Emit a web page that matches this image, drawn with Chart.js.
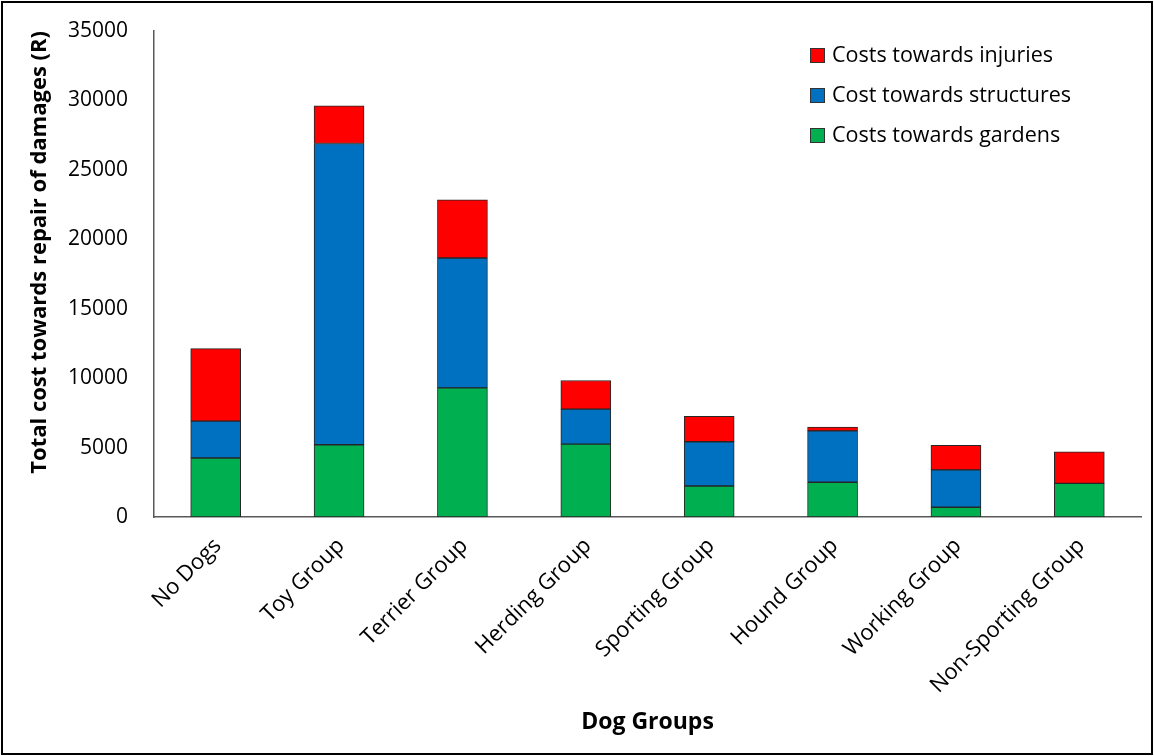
<!DOCTYPE html>
<html>
<head>
<meta charset="utf-8">
<script src="https://cdn.jsdelivr.net/npm/chart.js@4.4.1/dist/chart.umd.min.js"></script>
<style>
  html, body { margin: 0; padding: 0; background: #fff; }
  #wrap { width: 1154px; height: 756px; position: relative; }
</style>
</head>
<body>
<div id="wrap"><canvas id="chart" width="1154" height="756"></canvas></div>
<script>
// Dog group categories
const groups = ['No Dogs', 'Toy Group', 'Terrier Group', 'Herding Group',
  'Sporting Group', 'Hound Group', 'Working Group', 'Non-Sporting Group'];

// Cost segments (R)
const gardenCosts = [4250, 5200, 9300, 5250, 2230, 2500, 700, 2420];
const structureCosts = [2650, 21700, 9350, 2520, 3190, 3700, 2690, 0];
const injuryCosts = [5230, 2720, 4200, 2060, 1830, 270, 1780, 2280];

const yTicks = [0, 5000, 10000, 15000, 20000, 25000, 30000, 35000];

const FONT = "'Open Sans', 'DejaVu Sans', sans-serif";

// White background and the thin frame around the figure
const framePlugin = {
  id: 'frame',
  beforeDraw(chart) {
    const { ctx, width, height } = chart;
    ctx.save();
    ctx.fillStyle = '#fff';
    ctx.fillRect(0, 0, width, height);
    ctx.restore();
  },
  afterDraw(chart) {
    const { ctx, width, height } = chart;
    ctx.save();
    ctx.strokeStyle = '#000';
    ctx.lineWidth = 2;
    ctx.strokeRect(2, 2, width - 4, height - 4);
    ctx.restore();
  }
};

// Legend sits inside the plot area, top right, listed top-down as injuries/structures/gardens
const insideLegend = {
  id: 'insideLegend',
  afterDraw(chart) {
    const { ctx } = chart;
    const items = chart.data.datasets.slice().reverse();
    ctx.save();
    ctx.font = '21.5px ' + FONT;
    ctx.textBaseline = 'middle';
    ctx.textAlign = 'left';
    items.forEach((ds, i) => {
      const cy = 55 + i * 40;
      ctx.fillStyle = ds.backgroundColor;
      ctx.fillRect(810, cy - 7, 15, 15);
      ctx.strokeStyle = '#333';
      ctx.lineWidth = 1;
      ctx.strokeRect(810.5, cy - 6.5, 14, 14);
      ctx.fillStyle = '#000';
      ctx.fillText(ds.label, 832, cy + 1);
    });
    ctx.restore();
  }
};

const common = {
  borderColor: '#262626',
  borderWidth: 1,
  borderSkipped: false,
  barThickness: 50
};

// keep the plot box fixed, whatever the tick labels ask for
function noPadding(scale) {
  scale.paddingTop = 0;
  scale.paddingBottom = 0;
  scale.paddingLeft = 0;
  scale.paddingRight = 0;
}

new Chart(document.getElementById('chart'), {
  type: 'bar',
  data: {
    labels: groups,
    datasets: [
      { label: 'Costs towards gardens', data: gardenCosts, backgroundColor: '#00B050', ...common },
      { label: 'Cost towards structures', data: structureCosts, backgroundColor: '#0070C0', ...common },
      { label: 'Costs towards injuries', data: injuryCosts, backgroundColor: '#FF0000', ...common }
    ]
  },
  options: {
    responsive: false,
    animation: false,
    layout: { padding: { left: 0, top: 31, right: 13, bottom: 0 } },
    plugins: {
      legend: { display: false },
      tooltip: { enabled: false }
    },
    scales: {
      x: {
        stacked: true,
        grid: { display: false, drawTicks: false },
        border: { display: true, color: '#595959', width: 1.5 },
        ticks: {
          color: '#000',
          font: { family: FONT, size: 22 },
          maxRotation: 45,
          minRotation: 45,
          padding: 16,
          labelOffset: 2,
          autoSkip: false
        },
        title: {
          display: true,
          text: 'Dog Groups',
          color: '#000',
          font: { family: FONT, size: 23, weight: 'bold' },
          padding: { top: 0, bottom: 20 }
        },
        afterFit(scale) { scale.height = 239; noPadding(scale); }
      },
      y: {
        stacked: true,
        min: 0,
        max: 35000,
        grid: { display: false, drawTicks: false },
        border: { display: true, color: '#595959', width: 1.5 },
        afterBuildTicks(scale) { scale.ticks = yTicks.map(v => ({ value: v })); },
        ticks: {
          color: '#000',
          font: { family: FONT, size: 21 },
          padding: 26,
          callback: v => String(v)
        },
        title: {
          display: true,
          text: 'Total cost towards repair of damages (R)',
          align: 'end',
          color: '#000',
          font: { family: FONT, size: 22, weight: 'bold' },
          padding: { top: 27, bottom: 0 }
        },
        afterFit(scale) { scale.width = 154; noPadding(scale); }
      }
    }
  },
  plugins: [framePlugin, insideLegend]
});
</script>
</body>
</html>
